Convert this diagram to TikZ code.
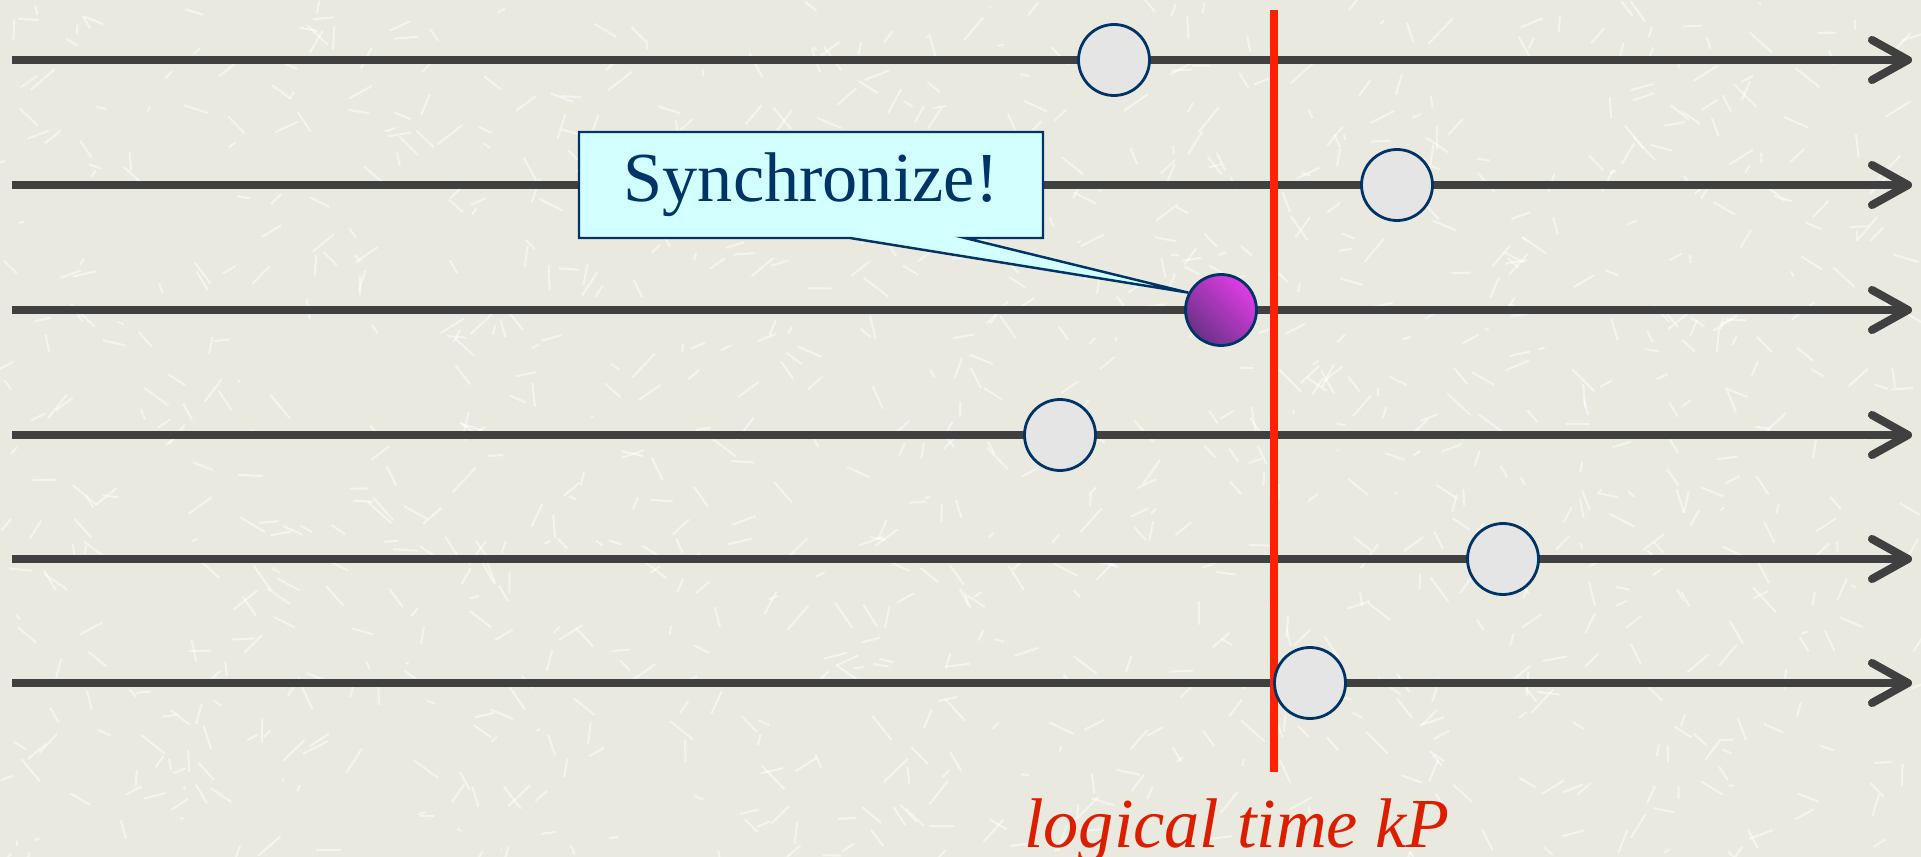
\documentclass[tikz,border=0pt]{standalone}
\usepackage{fontspec}
\setmainfont{Liberation Serif}
\usetikzlibrary{arrows.meta}

\definecolor{paper}{RGB}{233,233,223}
\definecolor{timeline}{RGB}{64,64,64}
\definecolor{kpred}{RGB}{255,34,0}
\definecolor{labelred}{RGB}{220,30,0}
\definecolor{navy}{RGB}{0,51,102}
\definecolor{eventgray}{RGB}{229,229,229}
\definecolor{calloutcyan}{RGB}{210,255,255}
\definecolor{purplight}{RGB}{225,60,230}
\definecolor{purpdark}{RGB}{105,50,135}

\tikzset{
  proc/.style={line width=2.3pt, color=timeline, -{Straight Barb[length=3.6mm,width=4mm,line cap=round,line join=round]}},
  event/.style={circle, draw=navy, line width=0.8pt, fill=eventgray, minimum size=7.1mm, inner sep=0pt},
  fleck/.style={white, opacity=0.5, line width=0.6pt},
}

\begin{document}
\begin{tikzpicture}[x=0.1mm,y=-0.1mm]
  \useasboundingbox[fill=paper] (0,0) rectangle (1921,857);
  % paper texture
  \pgfmathsetseed{11}
  \foreach \k in {1,...,1100}
    \draw[fleck] (rnd*1921,rnd*857) -- ++(rand*25,rand*25);
  % process timelines
  \foreach \i/\y in {1/60,2/185,3/310,4/435,5/559,6/683} {
    \coordinate (s\i) at (12,\y);
    \coordinate (e\i) at (1912,\y);
    \draw[proc] (s\i) -- (e\i);
  }
  % logical time kP
  \coordinate (kptop) at (1274,10);
  \coordinate (kpbot) at (1274,772);
  \draw[kpred, line width=2.3pt] (kptop) -- (kpbot);
  \node[anchor=base, text=labelred, font=\itshape\fontsize{20}{24}\selectfont] (kplabel) at (1237,847) {logical time kP};

  % events
  \node[event] (ev1) at (1114,60) {};
  \node[event] (ev2) at (1397,185) {};
  \node[event, top color=purplight, bottom color=purpdark, shading angle=-45] (ev3) at (1221,310) {};
  \node[event] (ev4) at (1060,435) {};
  \node[event] (ev5) at (1503,559) {};
  \node[event] (ev6) at (1310,683) {};

  % callout
  \filldraw[draw=navy, fill=calloutcyan, line width=0.7pt] (579,132) -- (1043,132) -- (1043,238) -- (965,238) -- (ev3.152) -- (850,238) -- (579,238) -- cycle;
  \node[text=navy, font=\fontsize{20}{24}\selectfont] (sync) at (811,185) {Synchronize!};
\end{tikzpicture}
\end{document}
